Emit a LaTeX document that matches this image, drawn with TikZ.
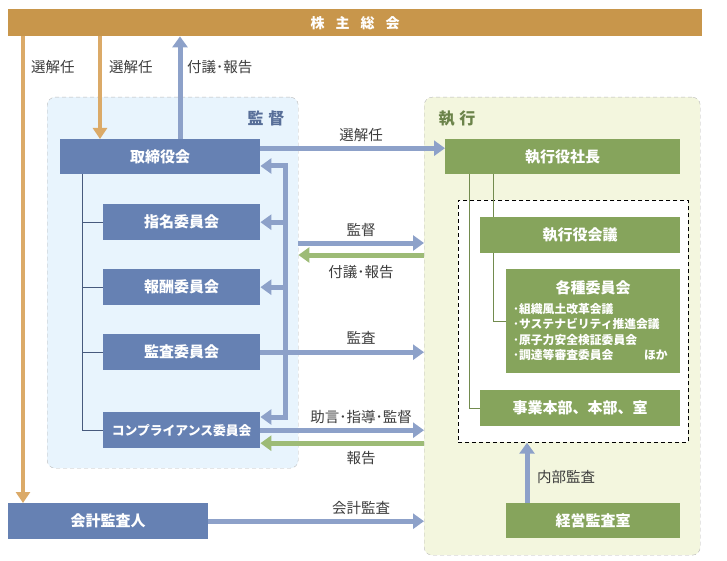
\documentclass[tikz,border=0pt]{standalone}
\usepackage{fontspec}
\setmainfont{Noto Sans CJK JP}
\usetikzlibrary{arrows.meta,positioning}

\definecolor{gold}{HTML}{C8964B}
\definecolor{ochre}{HTML}{DBAA68}
\definecolor{slate}{HTML}{6681B3}
\definecolor{slatel}{HTML}{8DA1C9}
\definecolor{olive}{HTML}{86A45C}
\definecolor{olivel}{HTML}{9DBB76}
\definecolor{skyfill}{HTML}{E8F4FD}
\definecolor{limefill}{HTML}{F3F6DE}
\definecolor{ink}{HTML}{3C3C3C}

\begin{document}
\begin{tikzpicture}[x=1pt,y=-1pt,
  box/.style={anchor=north west,inner sep=0pt,text=white,font=\bfseries\fontsize{15}{17}\selectfont},
  bluebox/.style={box,fill=slate},
  greenbox/.style={box,fill=olive},
  region/.style={anchor=north west,draw=gray!55,dash pattern=on 4pt off 3pt,rounded corners=8pt},
  lbl/.style={text=ink,inner sep=0pt,font=\fontsize{14.5}{16}\selectfont},
  barrow/.style={draw=slatel,line width=5pt,-{Triangle[length=11pt,width=15pt]}},
  barrows/.style={draw=slatel,line width=5pt,{Triangle[length=11pt,width=15pt]}-{Triangle[length=11pt,width=15pt]}},
  garrow/.style={draw=olivel,line width=5pt,-{Triangle[length=11pt,width=15pt]}},
  oarrow/.style={draw=ochre,line width=4.5pt,-{Triangle[length=11pt,width=14pt]}},
  btree/.style={draw=slate!70!black,line width=0.9pt},
  gtree/.style={draw=olive!85!black,line width=0.9pt}]
\useasboundingbox (0,0) rectangle (727,561);

% areas
\node[region,fill=skyfill,minimum width=251pt,minimum height=371pt] (kantoku) at (47,97) {};
\node[region,fill=limefill,minimum width=276pt,minimum height=458pt] (shikko) at (424,97) {};
\node[text=slate!85!black,font=\bfseries\fontsize{16}{18}\selectfont] (kantokuT) at (266,118) {監\hspace{5pt}督};
\node[text=olive!80!black,font=\bfseries\fontsize{16}{18}\selectfont] (shikkoT) at (457,119) {執\hspace{5pt}行};
\node[anchor=north west,draw,line width=0.7pt,dash pattern=on 4pt off 3pt,fill=white,minimum width=230pt,minimum height=242pt] (jikko) at (458,200) {};

\node[box,fill=gold,minimum width=694pt,minimum height=27pt,font=\bfseries\fontsize{14}{16}\selectfont] (sokai) at (8,9) {株\hspace{11pt}主\hspace{11pt}総\hspace{11pt}会};

% supervision side
\node[bluebox,minimum width=200pt,minimum height=35pt] (tori) at (60,139) {取締役会};
\node[bluebox,minimum width=157pt,minimum height=36pt] (shimei) at (103,204) {指名委員会};
\node[bluebox,minimum width=157pt,minimum height=36pt] (hoshu) at (103,269) {報酬委員会};
\node[bluebox,minimum width=157pt,minimum height=36pt] (kansa) at (103,334) {監査委員会};
\node[bluebox,minimum width=157pt,minimum height=36pt,font=\bfseries\fontsize{12.8}{15}\selectfont] (comp) at (103,412) {コンプライアンス委員会};
\node[bluebox,minimum width=200pt,minimum height=36pt] (kaikei) at (8,503) {会計監査人};

\draw[btree] ([xshift=22pt]tori.south west) |- (comp.west);
\foreach \b in {shimei,hoshu,kansa}
  \draw[btree] ([xshift=22pt]tori.south west |- \b.west) -- (\b.west);

% execution side
\node[greenbox,minimum width=235pt,minimum height=35pt] (shacho) at (445,139) {執行役社長};
\node[greenbox,minimum width=200pt,minimum height=36pt] (kaigi) at (480,217) {執行役会議};
\node[greenbox,minimum width=174pt,minimum height=104pt] (kakushu) at (506,269) {};
\node[text=white,inner sep=0pt,font=\bfseries\fontsize{15}{17}\selectfont] (kakushuT) at (593,288) {各種委員会};
\node[anchor=north west,text=white,inner sep=0pt,align=left,font=\bfseries\fontsize{11.8}{15.4}\selectfont] (kakushuL) at (513,303)
  {･組織風土改革会議\\･サステナビリティ推進会議\\･原子力安全検証委員会\\･調達等審査委員会\hspace{2.6em}ほか};
\node[greenbox,minimum width=200pt,minimum height=36pt] (jigyo) at (480,390) {事業本部、本部、室};
\node[greenbox,minimum width=174pt,minimum height=35pt] (keiei) at (506,503) {経営監査室};

\draw[gtree] ([xshift=24pt]shacho.south west) |- (jigyo.west);
\draw[gtree] ([xshift=48pt]shacho.south west) -- ([xshift=48pt]shacho.south west |- kaigi.north);
\draw[gtree] ([xshift=48pt]shacho.south west |- kaigi.south) |- (kakushu.west);

% shareholders
\draw[oarrow] ([xshift=15pt]kaikei.north west |- sokai.south) -- ([xshift=15pt]kaikei.north west);
\draw[oarrow] ([xshift=40pt]tori.north west |- sokai.south) -- ([xshift=40pt]tori.north west);
\draw[barrow] ([xshift=120pt]tori.north west) -- ([xshift=120pt]tori.north west |- sokai.south);
\node[lbl,anchor=west] (sen1) at (31,67) {選解任};
\node[lbl,anchor=west] (sen2) at (109,67) {選解任};
\node[lbl,anchor=west] (fugi1) at (187,67) {付議･報告};

% board -> president
\draw[barrow] ([yshift=8.5pt]tori.east) -- ([yshift=8.5pt]tori.east -| shacho.west);

% bracket back to the board and committees
\coordinate (brtop) at (285,166);
\coordinate (brbot) at (285,417);
\draw[barrows] (brbot -| comp.east) -- (brbot) -- (brtop) -- (brtop -| tori.east);
\draw[barrow] (brtop |- shimei) -- (shimei.east);
\draw[barrow] (brtop |- hoshu) -- (hoshu.east);

% between the two areas
\coordinate (ykan) at (0,243);
\coordinate (yfugi) at (0,255);
\draw[barrow] (kantoku.east |- ykan) -- (shikko.west |- ykan);
\draw[garrow] (shikko.west |- yfugi) -- (kantoku.east |- yfugi);
\draw[barrow] (kansa.east) -- (kansa.east -| shikko.west);
\draw[barrow] (comp.east) -- (comp.east -| shikko.west);
\draw[garrow] ([yshift=-13pt]comp.east -| shikko.west) -- ([yshift=-13pt]comp.east);
\draw[barrow] (kaikei.east) -- (kaikei.east -| shikko.west);
\draw[barrow] ([xshift=21pt]keiei.north west) -- ([xshift=21pt]keiei.north west |- jikko.south);

\node[lbl] (sen3) at (361,135) {選解任};
\node[lbl] (kan1) at (361,230) {監督};
\node[lbl] (fugi2) at (361,272) {付議･報告};
\node[lbl] (kan2) at (361,338) {監査};
\node[lbl] (jogen) at (361,417) {助言･指導･監督};
\node[lbl] (hokoku) at (361,458) {報告};
\node[lbl] (kaikeiK) at (361,508) {会計監査};
\node[lbl,anchor=west] (naibu) at (537,477) {内部監査};
\end{tikzpicture}
\end{document}
